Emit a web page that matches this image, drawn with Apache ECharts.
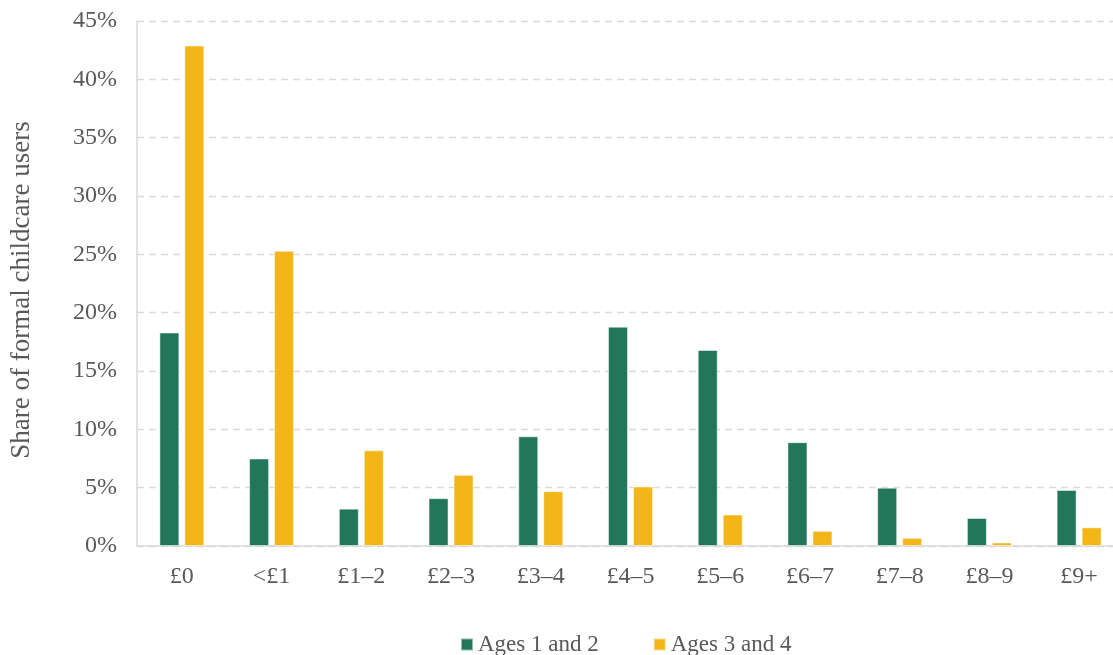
<!DOCTYPE html>
<html>
<head>
<meta charset="utf-8">
<script src="https://cdn.jsdelivr.net/npm/echarts@6/dist/echarts.min.js"></script>
<style>
html,body{margin:0;padding:0;background:#fff;overflow:hidden;}
#chart{width:1124px;height:655px;}
</style>
</head>
<body>
<div id="chart"></div>
<script>
const categories = ['£0', '<£1', '£1–2', '£2–3', '£3–4', '£4–5', '£5–6', '£6–7', '£7–8', '£8–9', '£9+'];
const ages12 = [18.3, 7.5, 3.2, 4.1, 9.4, 18.8, 16.8, 8.9, 5.0, 2.4, 4.8];
const ages34 = [42.9, 25.3, 8.2, 6.1, 4.7, 5.1, 2.7, 1.3, 0.7, 0.3, 1.6];
const seriesNames = ['Ages 1 and 2', 'Ages 3 and 4'];
const yTicks = [0, 5, 10, 15, 20, 25, 30, 35, 40, 45];

const FONT = '"Liberation Serif", "Times New Roman", serif';
const TXT = '#595959';
const chart = echarts.init(document.getElementById('chart'));
chart.setOption({
  animation: false,
  textStyle: { fontFamily: FONT },
  grid: { left: 137, right: 0, top: 21, bottom: 109 },
  legend: {
    data: seriesNames,
    top: 628,
    left: 455,
    icon: 'rect',
    itemWidth: 12,
    itemHeight: 12,
    itemGap: 54,
    textStyle: { fontFamily: FONT, fontSize: 23, color: TXT }
  },
  xAxis: {
    type: 'category',
    data: categories,
    axisTick: { show: false },
    axisLine: { lineStyle: { color: '#d9d9d9', width: 1.5 } },
    axisLabel: { fontFamily: FONT, fontSize: 24, color: TXT, margin: 19 }
  },
  yAxis: {
    type: 'value',
    min: yTicks[0],
    max: yTicks[yTicks.length - 1],
    interval: 5,
    name: 'Share of formal childcare users',
    nameLocation: 'middle',
    nameGap: 102,
    nameTextStyle: { fontFamily: FONT, fontSize: 27, color: TXT, padding: [0, 13, 0, 0] },
    axisLine: { show: true, lineStyle: { color: '#d9d9d9', width: 1.5 } },
    axisTick: { show: false },
    axisLabel: { fontFamily: FONT, fontSize: 24, color: TXT, margin: 20, formatter: v => v + '%' },
    splitLine: { lineStyle: { color: '#d9d9d9', width: 1.3, type: [7, 5] } }
  },
  series: [
    {
      name: seriesNames[0], type: 'bar', data: ages12, barWidth: 20, barGap: '25%',
      itemStyle: { color: '#22775A', borderColor: 'rgba(255,255,255,0.5)', borderWidth: 1 }
    },
    {
      name: seriesNames[1], type: 'bar', data: ages34, barWidth: 20,
      itemStyle: { color: '#F2B619', borderColor: 'rgba(255,255,255,0.5)', borderWidth: 1 }
    }
  ]
});
</script>
</body>
</html>
